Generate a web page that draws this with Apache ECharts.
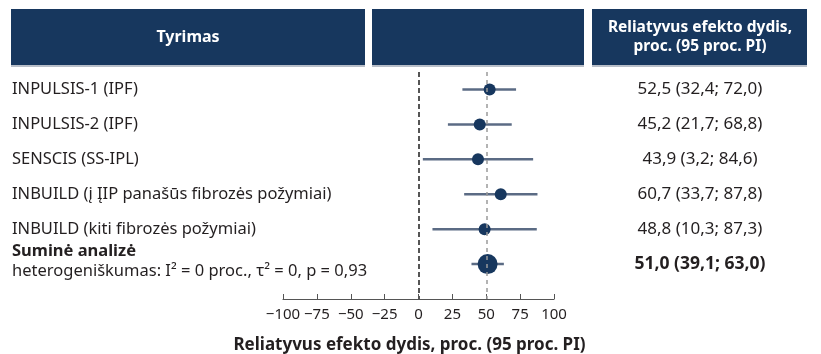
<!DOCTYPE html>
<html><head><meta charset="utf-8">
<script src="https://cdn.jsdelivr.net/npm/echarts@6/dist/echarts.min.js"></script>
<style>html,body{margin:0;padding:0;background:#fff}#c{width:821px;height:354px}</style>
</head><body><div id="c"></div>
<script>
const studies = ["INPULSIS-1 (IPF)", "INPULSIS-2 (IPF)", "SENSCIS (SS-IPL)", "INBUILD (į ĮIP panašūs fibrozės požymiai)", "INBUILD (kiti fibrozės požymiai)", "Suminė analizė"];
const pooledNote = "heterogeniškumas: I² = 0 proc., τ² = 0, p = 0,93";
const estimates = [52.5, 45.2, 43.9, 60.7, 48.8, 51.0];
const lower = [32.4, 21.7, 3.2, 33.7, 10.3, 39.1];
const upper = [72.0, 68.8, 84.6, 87.8, 87.3, 63.0];
const xTicks = [-100, -75, -50, -25, 0, 25, 50, 75, 100];
const refLines = [0, 50];

const fmt = v => v.toFixed(1).replace('.', ',');
const rowIdx = studies.map((_, i) => i);
const NAVY = '#17375e';
const FONT = 'Noto Sans';
const TXT = '#231f20';

const chart = echarts.init(document.getElementById('c'), null, {renderer: 'canvas'});
const pooled = studies.length - 1;

chart.setOption({
  animation: false,
  textStyle: {fontFamily: FONT},
  grid: {left: 283, right: 267, top: 72, bottom: 55, outerBoundsMode: 'none', containLabel: false},
  xAxis: {
    type: 'value', min: xTicks[0], max: xTicks[xTicks.length - 1], interval: 25,
    axisLine: {show: true, onZero: false, lineStyle: {color: '#555', width: 1.2}},
    axisTick: {show: true, inside: true, length: 5, lineStyle: {color: '#555'}},
    splitLine: {show: false},
    axisLabel: {color: TXT, fontSize: 15, margin: 8, fontFamily: FONT,
      formatter: v => (v < 0 ? '\u2212' + Math.abs(v) : String(v))},
    name: 'Reliatyvus efekto dydis, proc. (95 proc. PI)',
    nameLocation: 'middle', nameGap: 38,
    nameTextStyle: {fontWeight: 'bold', fontSize: 17, color: TXT, fontFamily: FONT, padding: [0, 18, 0, 0]}
  },
  yAxis: [{
    type: 'value', inverse: true, min: -0.5, max: 6,
    axisLine: {show: false}, axisTick: {show: false}, splitLine: {show: false},
    axisLabel: {
      customValues: rowIdx, align: 'left', margin: 271, fontSize: 16.5, color: TXT,
      formatter: v => {
        const i = Math.round(v);
        if (i === pooled) return '{b|' + studies[i] + '}\n{n|' + pooledNote + '}\n{s| }';
        return studies[i];
      },
      rich: {
        b: {fontWeight: 'bold', fontSize: 16.5, lineHeight: 20, color: TXT, fontFamily: FONT},
        n: {fontSize: 16.5, lineHeight: 20, color: TXT, fontFamily: FONT},
        s: {fontSize: 6, lineHeight: 6}
      }
    }
  }, {
    type: 'value', inverse: true, min: -0.5, max: 6, position: 'right',
    axisLine: {show: false}, axisTick: {show: false}, splitLine: {show: false},
    axisLabel: {
      customValues: rowIdx, align: 'center', margin: 146, fontSize: 17, color: TXT,
      formatter: v => {
        const i = Math.round(v);
        const s = fmt(estimates[i]) + ' (' + fmt(lower[i]) + '; ' + fmt(upper[i]) + ')';
        return i === pooled ? '{b|' + s + '}' : s;
      },
      rich: {b: {fontWeight: 'bold', fontSize: 17.5, color: TXT, fontFamily: FONT}}
    }
  }],
  graphic: [
    {type: 'rect', shape: {x: 11, y: 11, width: 354, height: 56}, style: {fill: '#b8bec8'}},
    {type: 'rect', shape: {x: 372, y: 11, width: 212, height: 56}, style: {fill: '#b8bec8'}},
    {type: 'rect', shape: {x: 592, y: 11, width: 215, height: 56}, style: {fill: '#b8bec8'}},
    {type: 'rect', shape: {x: 11, y: 9, width: 354, height: 56}, style: {fill: NAVY}},
    {type: 'rect', shape: {x: 372, y: 9, width: 212, height: 56}, style: {fill: NAVY}},
    {type: 'rect', shape: {x: 592, y: 9, width: 215, height: 56}, style: {fill: NAVY}},
    {type: 'text', x: 188, y: 37, style: {text: 'Tyrimas', fill: '#fff', font: 'bold 16px "Noto Sans"', textAlign: 'center', textVerticalAlign: 'middle'}},
    {type: 'text', x: 700, y: 37, style: {text: 'Reliatyvus efekto dydis,\nproc. (95 proc. PI)', fill: '#fff', font: 'bold 15.5px "Noto Sans"', lineHeight: 19, textAlign: 'center', textVerticalAlign: 'middle'}}
  ],
  series: [{
    type: 'custom',
    yAxisIndex: 0,
    data: rowIdx.map(i => [lower[i], upper[i], i]),
    encode: {x: [0, 1], y: 2},
    renderItem: (params, api) => {
      const a = api.coord([api.value(0), api.value(2)]);
      const b = api.coord([api.value(1), api.value(2)]);
      return {type: 'line', shape: {x1: a[0], y1: a[1], x2: b[0], y2: b[1]},
        style: {stroke: '#5b6b84', lineWidth: 2.5}};
    },
    z: 2
  }, {
    type: 'scatter',
    yAxisIndex: 0,
    data: rowIdx.map(i => ({value: [estimates[i], i], symbolSize: i === pooled ? 20 : 12})),
    itemStyle: {color: NAVY, opacity: 1},
    z: 3,
    markLine: {
      silent: true, symbol: 'none', label: {show: false},
      data: [
        {xAxis: refLines[0], lineStyle: {color: '#555', width: 2, type: [5, 3]}},
        {xAxis: refLines[1], lineStyle: {color: '#9a9a9a', width: 1.5, type: [4, 4]}}
      ]
    }
  }]
});
</script></body></html>
